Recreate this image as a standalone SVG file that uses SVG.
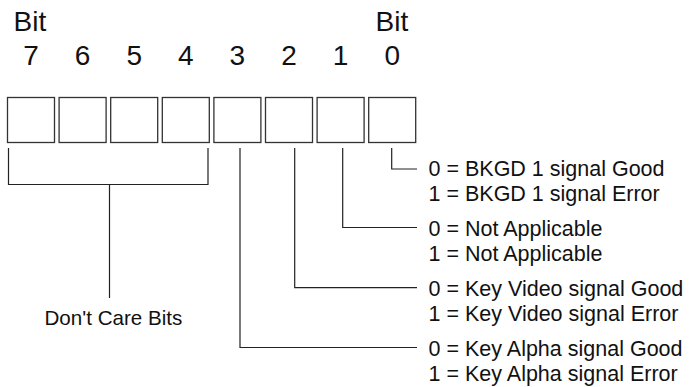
<svg xmlns="http://www.w3.org/2000/svg" width="689" height="387" viewBox="0 0 689 387">
<style>
.big{font-family:"Liberation Sans",Arial,sans-serif;font-size:28px;fill:#111}
.sm{font-family:"Liberation Sans",Arial,sans-serif;font-size:21.5px;fill:#111}
.box{fill:#fff;stroke:#333;stroke-width:1.3}
.ln{fill:none;stroke:#222;stroke-width:1.2}
</style>
<rect width="689" height="387" fill="#fff"/>
<g id="header">
<text class="big" x="13.5" y="31">Bit</text>
<text class="big" x="375.5" y="31">Bit</text>
<g text-anchor="middle">
<text class="big" x="31" y="65">7</text>
<text class="big" x="82.6" y="65">6</text>
<text class="big" x="134.2" y="65">5</text>
<text class="big" x="185.8" y="65">4</text>
<text class="big" x="237.4" y="65">3</text>
<text class="big" x="289" y="65">2</text>
<text class="big" x="340.6" y="65">1</text>
<text class="big" x="392.2" y="65">0</text>
</g>
</g>
<g id="bit7"><rect class="box" x="7.5" y="97.5" width="47" height="45"/></g>
<g id="bit6"><rect class="box" x="59.1" y="97.5" width="47" height="45"/></g>
<g id="bit5"><rect class="box" x="110.7" y="97.5" width="47" height="45"/></g>
<g id="bit4"><rect class="box" x="162.3" y="97.5" width="47" height="45"/></g>
<g id="bit3"><rect class="box" x="213.9" y="97.5" width="47" height="45"/></g>
<g id="bit2"><rect class="box" x="265.5" y="97.5" width="47" height="45"/></g>
<g id="bit1"><rect class="box" x="317.1" y="97.5" width="47" height="45"/></g>
<g id="bit0"><rect class="box" x="368.7" y="97.5" width="47" height="45"/></g>
<g id="connectors">
<path class="ln" d="M8.5 148 V184.5 H208 V148 M109.5 184.5 V298"/>
<path class="ln" d="M391.7 148 V169 H417"/>
<path class="ln" d="M342.7 148 V227.5 H417"/>
<path class="ln" d="M294.7 148 V287.7 H417"/>
<path class="ln" d="M240 148 V347.5 H417"/>
</g>
<g id="labels">
<text class="sm" x="44.5" y="325" style="font-size:20.6px">Don't Care Bits</text>
<text class="sm" x="428.5" y="176">0 = BKGD 1 signal Good</text>
<text class="sm" x="428.5" y="201">1 = BKGD 1 signal Error</text>
<text class="sm" x="428.5" y="236">0 = Not Applicable</text>
<text class="sm" x="428.5" y="261">1 = Not Applicable</text>
<text class="sm" x="428.5" y="296">0 = Key Video signal Good</text>
<text class="sm" x="428.5" y="321">1 = Key Video signal Error</text>
<text class="sm" x="428.5" y="356">0 = Key Alpha signal Good</text>
<text class="sm" x="428.5" y="381">1 = Key Alpha signal Error</text>
</g>
</svg>
